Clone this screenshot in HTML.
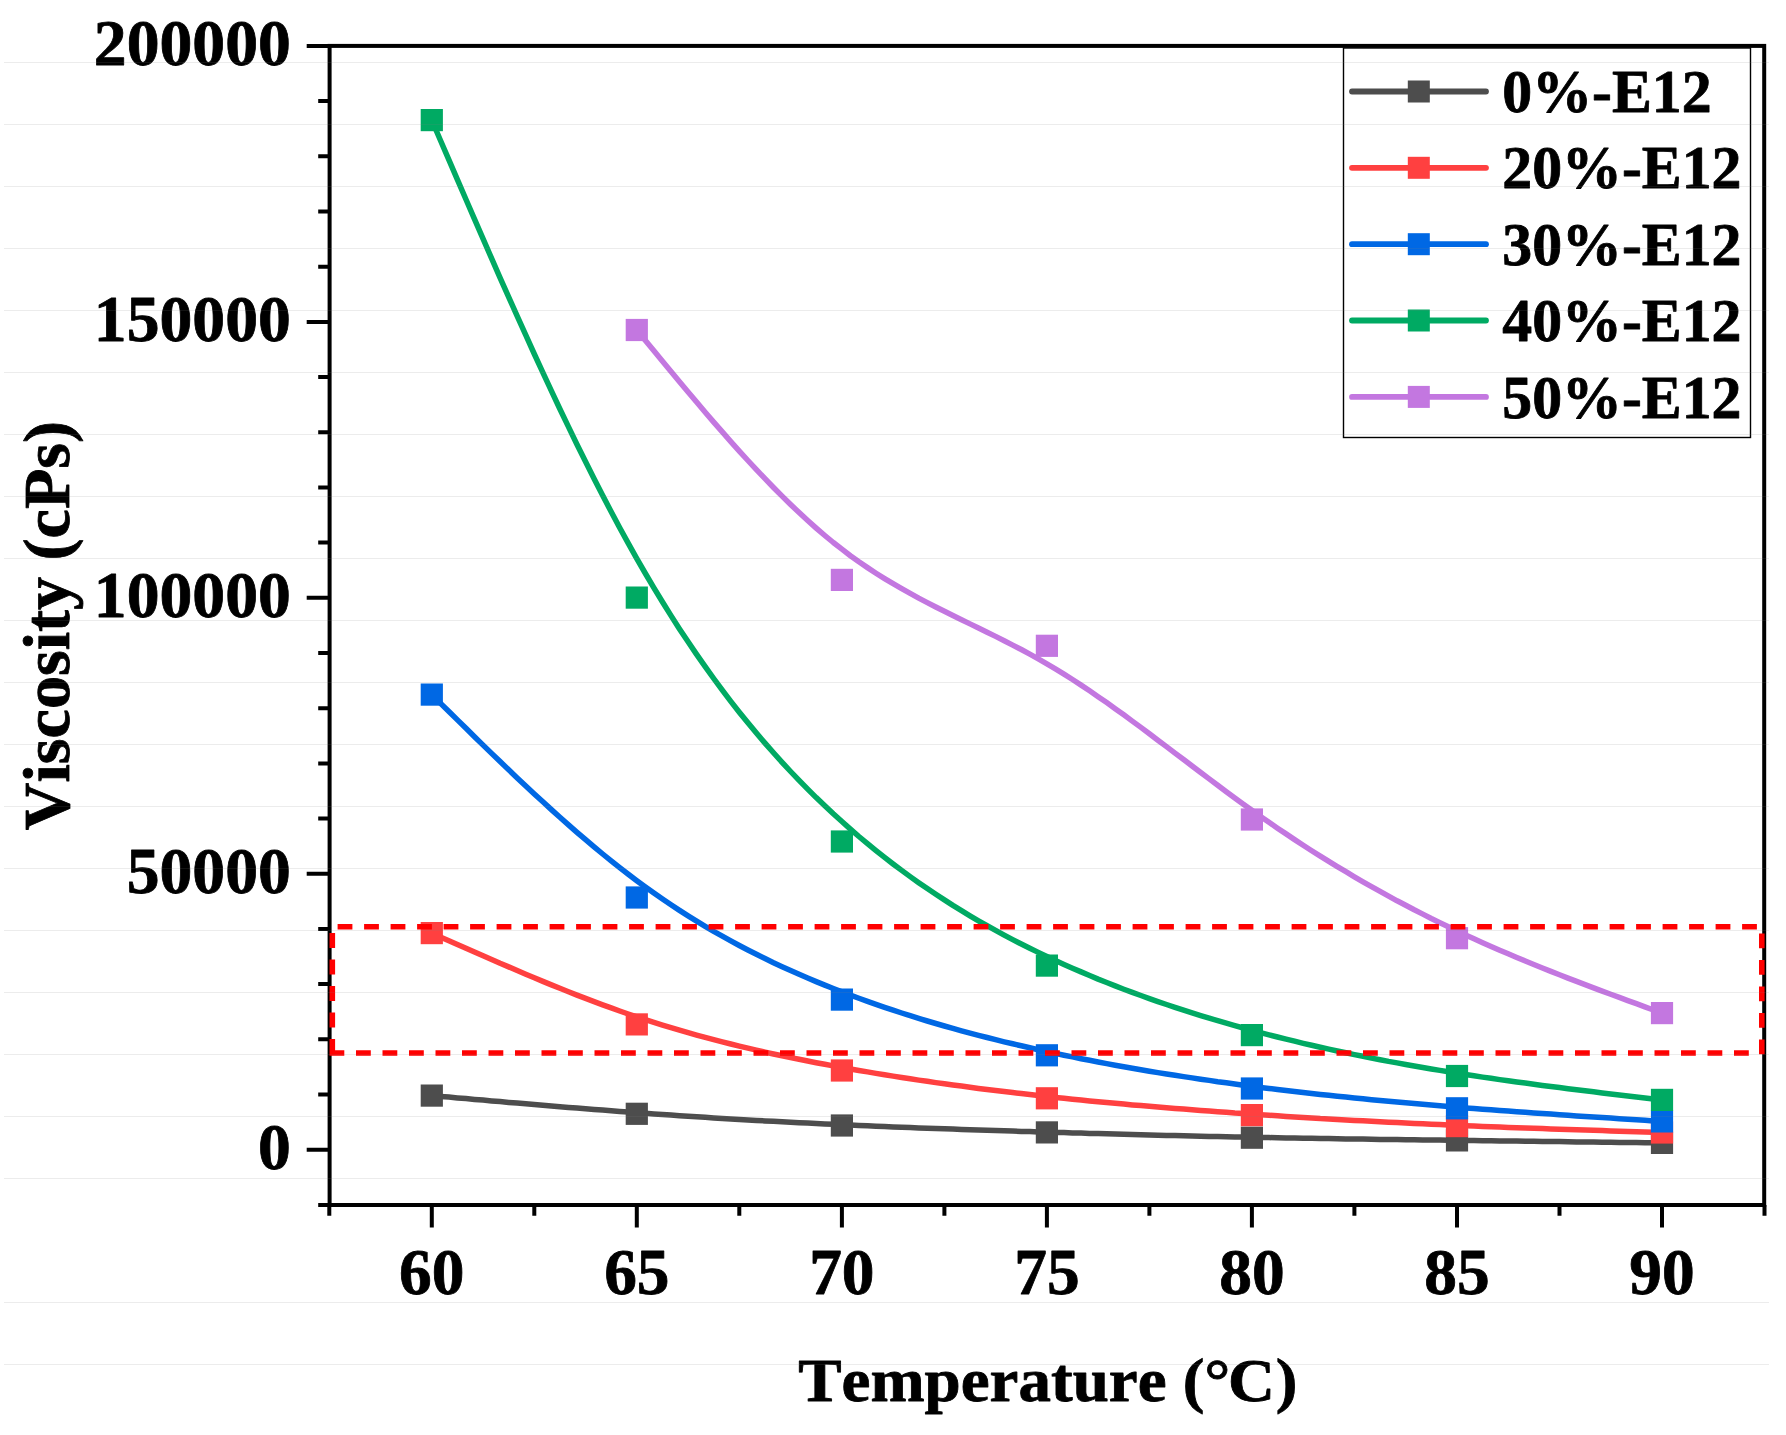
<!DOCTYPE html>
<html lang="en"><head><meta charset="utf-8"><title>Viscosity vs Temperature</title>
<style>html,body{margin:0;padding:0;background:#fff}body{width:1786px;height:1435px;overflow:hidden}svg{display:block}text{font-family:"Liberation Serif","Times New Roman",serif;font-weight:bold;fill:#000;font-kerning:none;stroke:#000;stroke-width:0.8px;stroke-linejoin:round}</style></head><body>
<svg width="1786" height="1435" viewBox="0 0 1786 1435">
<rect width="1786" height="1435" fill="#fff"/>
<path d="M431.8 1095.6 L440.3 1096.4 L448.9 1097.1 L457.4 1097.9 L466.0 1098.6 L474.5 1099.4 L483.1 1100.1 L491.6 1100.9 L500.1 1101.6 L508.7 1102.4 L517.2 1103.1 L525.8 1103.8 L534.3 1104.6 L542.9 1105.3 L551.4 1106.0 L559.9 1106.7 L568.5 1107.4 L577.0 1108.1 L585.6 1108.8 L594.1 1109.5 L602.7 1110.1 L611.2 1110.8 L619.7 1111.4 L628.3 1112.1 L636.8 1112.7 L645.4 1113.3 L653.9 1113.9 L662.5 1114.5 L671.0 1115.1 L679.5 1115.7 L688.1 1116.3 L696.6 1116.8 L705.2 1117.3 L713.7 1117.9 L722.3 1118.4 L730.8 1118.9 L739.3 1119.4 L747.9 1119.9 L756.4 1120.4 L765.0 1120.9 L773.5 1121.3 L782.1 1121.8 L790.6 1122.2 L799.1 1122.7 L807.7 1123.1 L816.2 1123.5 L824.8 1123.9 L833.3 1124.3 L841.9 1124.7 L850.4 1125.1 L858.9 1125.5 L867.5 1125.8 L876.0 1126.2 L884.6 1126.5 L893.1 1126.9 L901.7 1127.2 L910.2 1127.6 L918.7 1127.9 L927.3 1128.2 L935.8 1128.5 L944.4 1128.8 L952.9 1129.1 L961.5 1129.4 L970.0 1129.7 L978.5 1130.0 L987.1 1130.3 L995.6 1130.5 L1004.2 1130.8 L1012.7 1131.1 L1021.3 1131.4 L1029.8 1131.6 L1038.3 1131.9 L1046.9 1132.1 L1055.4 1132.4 L1064.0 1132.6 L1072.5 1132.9 L1081.1 1133.1 L1089.6 1133.4 L1098.1 1133.6 L1106.7 1133.8 L1115.2 1134.1 L1123.8 1134.3 L1132.3 1134.5 L1140.9 1134.7 L1149.4 1135.0 L1157.9 1135.2 L1166.5 1135.4 L1175.0 1135.6 L1183.6 1135.8 L1192.1 1136.0 L1200.7 1136.2 L1209.2 1136.4 L1217.7 1136.6 L1226.3 1136.7 L1234.8 1136.9 L1243.4 1137.1 L1251.9 1137.3 L1260.5 1137.4 L1269.0 1137.6 L1277.5 1137.7 L1286.1 1137.9 L1294.6 1138.0 L1303.2 1138.2 L1311.7 1138.3 L1320.3 1138.5 L1328.8 1138.6 L1337.3 1138.7 L1345.9 1138.9 L1354.4 1139.0 L1363.0 1139.1 L1371.5 1139.2 L1380.1 1139.4 L1388.6 1139.5 L1397.1 1139.6 L1405.7 1139.7 L1414.2 1139.8 L1422.8 1139.9 L1431.3 1140.0 L1439.9 1140.1 L1448.4 1140.3 L1457.0 1140.4 L1465.5 1140.5 L1474.0 1140.6 L1482.6 1140.7 L1491.1 1140.8 L1499.7 1140.9 L1508.2 1141.0 L1516.8 1141.1 L1525.3 1141.2 L1533.8 1141.3 L1542.4 1141.4 L1550.9 1141.5 L1559.5 1141.6 L1568.0 1141.8 L1576.6 1141.9 L1585.1 1142.0 L1593.6 1142.1 L1602.2 1142.2 L1610.7 1142.3 L1619.3 1142.4 L1627.8 1142.5 L1636.4 1142.6 L1644.9 1142.7 L1653.4 1142.8 L1662.0 1142.9" fill="none" stroke="#4d4d4d" stroke-width="5.5" stroke-linejoin="round"/>
<path d="M431.8 933.1 L440.3 936.9 L448.9 940.7 L457.4 944.5 L466.0 948.3 L474.5 952.1 L483.1 955.8 L491.6 959.5 L500.1 963.3 L508.7 966.9 L517.2 970.6 L525.8 974.2 L534.3 977.8 L542.9 981.4 L551.4 984.9 L559.9 988.3 L568.5 991.7 L577.0 995.1 L585.6 998.4 L594.1 1001.6 L602.7 1004.8 L611.2 1007.9 L619.7 1011.0 L628.3 1014.0 L636.8 1016.9 L645.4 1019.7 L653.9 1022.4 L662.5 1025.1 L671.0 1027.7 L679.5 1030.2 L688.1 1032.7 L696.6 1035.1 L705.2 1037.4 L713.7 1039.7 L722.3 1041.9 L730.8 1044.0 L739.3 1046.1 L747.9 1048.2 L756.4 1050.1 L765.0 1052.1 L773.5 1054.0 L782.1 1055.8 L790.6 1057.6 L799.1 1059.3 L807.7 1061.0 L816.2 1062.7 L824.8 1064.3 L833.3 1065.9 L841.9 1067.5 L850.4 1069.0 L858.9 1070.5 L867.5 1071.9 L876.0 1073.4 L884.6 1074.8 L893.1 1076.1 L901.7 1077.5 L910.2 1078.8 L918.7 1080.1 L927.3 1081.3 L935.8 1082.6 L944.4 1083.8 L952.9 1085.0 L961.5 1086.1 L970.0 1087.3 L978.5 1088.4 L987.1 1089.5 L995.6 1090.5 L1004.2 1091.6 L1012.7 1092.6 L1021.3 1093.6 L1029.8 1094.6 L1038.3 1095.5 L1046.9 1096.5 L1055.4 1097.4 L1064.0 1098.3 L1072.5 1099.2 L1081.1 1100.0 L1089.6 1100.9 L1098.1 1101.7 L1106.7 1102.5 L1115.2 1103.3 L1123.8 1104.1 L1132.3 1104.9 L1140.9 1105.6 L1149.4 1106.3 L1157.9 1107.1 L1166.5 1107.8 L1175.0 1108.5 L1183.6 1109.1 L1192.1 1109.8 L1200.7 1110.5 L1209.2 1111.1 L1217.7 1111.7 L1226.3 1112.3 L1234.8 1113.0 L1243.4 1113.5 L1251.9 1114.1 L1260.5 1114.7 L1269.0 1115.3 L1277.5 1115.8 L1286.1 1116.4 L1294.6 1116.9 L1303.2 1117.4 L1311.7 1117.9 L1320.3 1118.5 L1328.8 1118.9 L1337.3 1119.4 L1345.9 1119.9 L1354.4 1120.4 L1363.0 1120.8 L1371.5 1121.3 L1380.1 1121.7 L1388.6 1122.2 L1397.1 1122.6 L1405.7 1123.0 L1414.2 1123.4 L1422.8 1123.8 L1431.3 1124.2 L1439.9 1124.6 L1448.4 1125.0 L1457.0 1125.3 L1465.5 1125.7 L1474.0 1126.0 L1482.6 1126.4 L1491.1 1126.7 L1499.7 1127.1 L1508.2 1127.4 L1516.8 1127.7 L1525.3 1128.0 L1533.8 1128.3 L1542.4 1128.6 L1550.9 1128.9 L1559.5 1129.2 L1568.0 1129.5 L1576.6 1129.8 L1585.1 1130.1 L1593.6 1130.3 L1602.2 1130.6 L1610.7 1130.9 L1619.3 1131.2 L1627.8 1131.4 L1636.4 1131.7 L1644.9 1132.0 L1653.4 1132.2 L1662.0 1132.5" fill="none" stroke="#ff4040" stroke-width="5.5" stroke-linejoin="round"/>
<path d="M431.8 694.6 L440.3 703.1 L448.9 711.5 L457.4 719.9 L466.0 728.3 L474.5 736.7 L483.1 745.1 L491.6 753.4 L500.1 761.6 L508.7 769.8 L517.2 777.9 L525.8 786.0 L534.3 794.0 L542.9 801.8 L551.4 809.6 L559.9 817.3 L568.5 824.9 L577.0 832.4 L585.6 839.7 L594.1 846.9 L602.7 854.0 L611.2 860.9 L619.7 867.7 L628.3 874.3 L636.8 880.7 L645.4 887.0 L653.9 893.1 L662.5 899.0 L671.0 904.8 L679.5 910.4 L688.1 915.8 L696.6 921.1 L705.2 926.3 L713.7 931.3 L722.3 936.1 L730.8 940.9 L739.3 945.5 L747.9 950.0 L756.4 954.3 L765.0 958.5 L773.5 962.7 L782.1 966.7 L790.6 970.6 L799.1 974.3 L807.7 978.0 L816.2 981.6 L824.8 985.1 L833.3 988.5 L841.9 991.9 L850.4 995.1 L858.9 998.3 L867.5 1001.4 L876.0 1004.4 L884.6 1007.3 L893.1 1010.2 L901.7 1013.0 L910.2 1015.7 L918.7 1018.4 L927.3 1021.0 L935.8 1023.5 L944.4 1026.0 L952.9 1028.4 L961.5 1030.8 L970.0 1033.1 L978.5 1035.3 L987.1 1037.5 L995.6 1039.7 L1004.2 1041.8 L1012.7 1043.8 L1021.3 1045.8 L1029.8 1047.8 L1038.3 1049.7 L1046.9 1051.5 L1055.4 1053.4 L1064.0 1055.2 L1072.5 1056.9 L1081.1 1058.7 L1089.6 1060.3 L1098.1 1062.0 L1106.7 1063.6 L1115.2 1065.2 L1123.8 1066.7 L1132.3 1068.2 L1140.9 1069.7 L1149.4 1071.2 L1157.9 1072.6 L1166.5 1074.0 L1175.0 1075.3 L1183.6 1076.6 L1192.1 1077.9 L1200.7 1079.2 L1209.2 1080.4 L1217.7 1081.7 L1226.3 1082.8 L1234.8 1084.0 L1243.4 1085.2 L1251.9 1086.3 L1260.5 1087.4 L1269.0 1088.4 L1277.5 1089.5 L1286.1 1090.5 L1294.6 1091.5 L1303.2 1092.5 L1311.7 1093.5 L1320.3 1094.4 L1328.8 1095.3 L1337.3 1096.2 L1345.9 1097.1 L1354.4 1098.0 L1363.0 1098.8 L1371.5 1099.7 L1380.1 1100.5 L1388.6 1101.3 L1397.1 1102.1 L1405.7 1102.8 L1414.2 1103.6 L1422.8 1104.3 L1431.3 1105.1 L1439.9 1105.8 L1448.4 1106.5 L1457.0 1107.2 L1465.5 1107.9 L1474.0 1108.5 L1482.6 1109.2 L1491.1 1109.8 L1499.7 1110.5 L1508.2 1111.1 L1516.8 1111.7 L1525.3 1112.3 L1533.8 1112.9 L1542.4 1113.5 L1550.9 1114.1 L1559.5 1114.7 L1568.0 1115.3 L1576.6 1115.9 L1585.1 1116.4 L1593.6 1117.0 L1602.2 1117.6 L1610.7 1118.1 L1619.3 1118.7 L1627.8 1119.2 L1636.4 1119.8 L1644.9 1120.3 L1653.4 1120.9 L1662.0 1121.4" fill="none" stroke="#0068e4" stroke-width="5.5" stroke-linejoin="round"/>
<path d="M431.8 120.1 L440.3 140.0 L448.9 159.9 L457.4 179.7 L466.0 199.5 L474.5 219.2 L483.1 238.9 L491.6 258.4 L500.1 277.8 L508.7 297.1 L517.2 316.2 L525.8 335.2 L534.3 354.0 L542.9 372.6 L551.4 390.9 L559.9 409.0 L568.5 426.9 L577.0 444.5 L585.6 461.8 L594.1 478.8 L602.7 495.5 L611.2 511.8 L619.7 527.8 L628.3 543.4 L636.8 558.7 L645.4 573.5 L653.9 587.9 L662.5 602.0 L671.0 615.6 L679.5 628.9 L688.1 641.8 L696.6 654.4 L705.2 666.6 L713.7 678.5 L722.3 690.1 L730.8 701.3 L739.3 712.2 L747.9 722.8 L756.4 733.1 L765.0 743.1 L773.5 752.8 L782.1 762.3 L790.6 771.5 L799.1 780.4 L807.7 789.1 L816.2 797.6 L824.8 805.8 L833.3 813.8 L841.9 821.5 L850.4 829.1 L858.9 836.5 L867.5 843.6 L876.0 850.6 L884.6 857.4 L893.1 864.0 L901.7 870.4 L910.2 876.6 L918.7 882.7 L927.3 888.6 L935.8 894.3 L944.4 899.9 L952.9 905.4 L961.5 910.6 L970.0 915.8 L978.5 920.8 L987.1 925.7 L995.6 930.4 L1004.2 935.1 L1012.7 939.6 L1021.3 944.0 L1029.8 948.2 L1038.3 952.4 L1046.9 956.5 L1055.4 960.5 L1064.0 964.4 L1072.5 968.2 L1081.1 971.9 L1089.6 975.5 L1098.1 979.1 L1106.7 982.5 L1115.2 985.9 L1123.8 989.2 L1132.3 992.4 L1140.9 995.5 L1149.4 998.6 L1157.9 1001.6 L1166.5 1004.5 L1175.0 1007.4 L1183.6 1010.2 L1192.1 1012.9 L1200.7 1015.6 L1209.2 1018.2 L1217.7 1020.7 L1226.3 1023.2 L1234.8 1025.6 L1243.4 1028.0 L1251.9 1030.3 L1260.5 1032.6 L1269.0 1034.8 L1277.5 1037.0 L1286.1 1039.1 L1294.6 1041.2 L1303.2 1043.3 L1311.7 1045.3 L1320.3 1047.2 L1328.8 1049.1 L1337.3 1051.0 L1345.9 1052.8 L1354.4 1054.6 L1363.0 1056.3 L1371.5 1058.1 L1380.1 1059.7 L1388.6 1061.4 L1397.1 1062.9 L1405.7 1064.5 L1414.2 1066.0 L1422.8 1067.5 L1431.3 1069.0 L1439.9 1070.4 L1448.4 1071.8 L1457.0 1073.2 L1465.5 1074.5 L1474.0 1075.8 L1482.6 1077.1 L1491.1 1078.3 L1499.7 1079.6 L1508.2 1080.8 L1516.8 1082.0 L1525.3 1083.1 L1533.8 1084.3 L1542.4 1085.4 L1550.9 1086.5 L1559.5 1087.6 L1568.0 1088.7 L1576.6 1089.7 L1585.1 1090.8 L1593.6 1091.8 L1602.2 1092.9 L1610.7 1093.9 L1619.3 1094.9 L1627.8 1095.9 L1636.4 1096.9 L1644.9 1097.9 L1653.4 1098.9 L1662.0 1099.9" fill="none" stroke="#00aa63" stroke-width="5.5" stroke-linejoin="round"/>
<path d="M636.8 330.0 L645.4 340.4 L653.9 350.8 L662.5 361.2 L671.0 371.5 L679.5 381.8 L688.1 392.0 L696.6 402.1 L705.2 412.2 L713.7 422.1 L722.3 431.9 L730.8 441.6 L739.3 451.1 L747.9 460.5 L756.4 469.7 L765.0 478.7 L773.5 487.5 L782.1 496.1 L790.6 504.5 L799.1 512.6 L807.7 520.5 L816.2 528.1 L824.8 535.5 L833.3 542.5 L841.9 549.2 L850.4 555.7 L858.9 561.8 L867.5 567.6 L876.0 573.2 L884.6 578.6 L893.1 583.7 L901.7 588.7 L910.2 593.4 L918.7 598.1 L927.3 602.6 L935.8 607.0 L944.4 611.3 L952.9 615.5 L961.5 619.7 L970.0 623.9 L978.5 628.0 L987.1 632.2 L995.6 636.4 L1004.2 640.7 L1012.7 645.1 L1021.3 649.5 L1029.8 654.1 L1038.3 658.9 L1046.9 663.8 L1055.4 668.8 L1064.0 674.1 L1072.5 679.5 L1081.1 685.1 L1089.6 690.8 L1098.1 696.7 L1106.7 702.6 L1115.2 708.7 L1123.8 714.8 L1132.3 721.1 L1140.9 727.4 L1149.4 733.8 L1157.9 740.2 L1166.5 746.6 L1175.0 753.1 L1183.6 759.5 L1192.1 766.0 L1200.7 772.5 L1209.2 778.9 L1217.7 785.3 L1226.3 791.7 L1234.8 798.0 L1243.4 804.2 L1251.9 810.3 L1260.5 816.4 L1269.0 822.3 L1277.5 828.2 L1286.1 833.9 L1294.6 839.6 L1303.2 845.2 L1311.7 850.7 L1320.3 856.1 L1328.8 861.4 L1337.3 866.6 L1345.9 871.7 L1354.4 876.8 L1363.0 881.8 L1371.5 886.6 L1380.1 891.4 L1388.6 896.1 L1397.1 900.8 L1405.7 905.3 L1414.2 909.8 L1422.8 914.1 L1431.3 918.5 L1439.9 922.7 L1448.4 926.8 L1457.0 930.9 L1465.5 934.9 L1474.0 938.8 L1482.6 942.7 L1491.1 946.5 L1499.7 950.2 L1508.2 953.8 L1516.8 957.5 L1525.3 961.0 L1533.8 964.5 L1542.4 968.0 L1550.9 971.4 L1559.5 974.7 L1568.0 978.1 L1576.6 981.4 L1585.1 984.6 L1593.6 987.9 L1602.2 991.1 L1610.7 994.3 L1619.3 997.4 L1627.8 1000.6 L1636.4 1003.7 L1644.9 1006.9 L1653.4 1010.0 L1662.0 1013.1" fill="none" stroke="#c377e0" stroke-width="5.5" stroke-linejoin="round"/>
<rect x="420.7" y="1084.5" width="22.2" height="22.2" fill="#4d4d4d"/>
<rect x="625.7" y="1102.7" width="22.2" height="22.2" fill="#4d4d4d"/>
<rect x="830.8" y="1114.4" width="22.2" height="22.2" fill="#4d4d4d"/>
<rect x="1035.8" y="1121.3" width="22.2" height="22.2" fill="#4d4d4d"/>
<rect x="1240.8" y="1126.6" width="22.2" height="22.2" fill="#4d4d4d"/>
<rect x="1445.9" y="1129.3" width="22.2" height="22.2" fill="#4d4d4d"/>
<rect x="1650.9" y="1131.8" width="22.2" height="22.2" fill="#4d4d4d"/>
<rect x="420.7" y="922.0" width="22.2" height="22.2" fill="#ff4040"/>
<rect x="625.7" y="1013.3" width="22.2" height="22.2" fill="#ff4040"/>
<rect x="830.8" y="1059.4" width="22.2" height="22.2" fill="#ff4040"/>
<rect x="1035.8" y="1087.2" width="22.2" height="22.2" fill="#ff4040"/>
<rect x="1240.8" y="1104.0" width="22.2" height="22.2" fill="#ff4040"/>
<rect x="1445.9" y="1115.0" width="22.2" height="22.2" fill="#ff4040"/>
<rect x="1650.9" y="1121.4" width="22.2" height="22.2" fill="#ff4040"/>
<rect x="420.7" y="683.5" width="22.2" height="22.2" fill="#0068e4"/>
<rect x="625.7" y="886.4" width="22.2" height="22.2" fill="#0068e4"/>
<rect x="830.8" y="988.5" width="22.2" height="22.2" fill="#0068e4"/>
<rect x="1035.8" y="1044.2" width="22.2" height="22.2" fill="#0068e4"/>
<rect x="1240.8" y="1077.4" width="22.2" height="22.2" fill="#0068e4"/>
<rect x="1445.9" y="1097.2" width="22.2" height="22.2" fill="#0068e4"/>
<rect x="1650.9" y="1110.3" width="22.2" height="22.2" fill="#0068e4"/>
<rect x="420.7" y="109.0" width="22.2" height="22.2" fill="#00aa63"/>
<rect x="625.7" y="586.5" width="22.2" height="22.2" fill="#00aa63"/>
<rect x="830.8" y="830.4" width="22.2" height="22.2" fill="#00aa63"/>
<rect x="1035.8" y="954.5" width="22.2" height="22.2" fill="#00aa63"/>
<rect x="1240.8" y="1024.0" width="22.2" height="22.2" fill="#00aa63"/>
<rect x="1445.9" y="1064.9" width="22.2" height="22.2" fill="#00aa63"/>
<rect x="1650.9" y="1088.8" width="22.2" height="22.2" fill="#00aa63"/>
<rect x="625.7" y="318.9" width="22.2" height="22.2" fill="#c377e0"/>
<rect x="830.8" y="568.8" width="22.2" height="22.2" fill="#c377e0"/>
<rect x="1035.8" y="634.7" width="22.2" height="22.2" fill="#c377e0"/>
<rect x="1240.8" y="808.4" width="22.2" height="22.2" fill="#c377e0"/>
<rect x="1445.9" y="927.1" width="22.2" height="22.2" fill="#c377e0"/>
<rect x="1650.9" y="1002.0" width="22.2" height="22.2" fill="#c377e0"/>
<rect x="329.6" y="45.9" width="1434.6" height="1159.1" fill="none" stroke="#000" stroke-width="4.0"/>
<path d="M329.6 1149.7h-22.9M329.6 1094.5h-11.4M329.6 1039.3h-11.4M329.6 984.1h-11.4M329.6 928.9h-11.4M329.6 873.8h-22.9M329.6 818.6h-11.4M329.6 763.4h-11.4M329.6 708.2h-11.4M329.6 653.0h-11.4M329.6 597.8h-22.9M329.6 542.6h-11.4M329.6 487.4h-11.4M329.6 432.2h-11.4M329.6 377.0h-11.4M329.6 321.9h-22.9M329.6 266.7h-11.4M329.6 211.5h-11.4M329.6 156.3h-11.4M329.6 101.1h-11.4M329.6 45.9h-22.9M329.6 1205.0h-11.4M329.3 1205.0v10.8M431.8 1205.0v22.5M534.3 1205.0v10.8M636.8 1205.0v22.5M739.3 1205.0v10.8M841.9 1205.0v22.5M944.4 1205.0v10.8M1046.9 1205.0v22.5M1149.4 1205.0v10.8M1251.9 1205.0v22.5M1354.4 1205.0v10.8M1457.0 1205.0v22.5M1559.5 1205.0v10.8M1662.0 1205.0v22.5M1764.5 1205.0v10.8" stroke="#000" stroke-width="4.0" fill="none"/>
<text transform="translate(290.80,1169.00) scale(0.9950,1)" font-size="66.00" text-anchor="end">0</text>
<text transform="translate(290.80,893.05) scale(0.9950,1)" font-size="66.00" text-anchor="end">50000</text>
<text transform="translate(290.80,617.10) scale(0.9950,1)" font-size="66.00" text-anchor="end">100000</text>
<text transform="translate(290.80,341.15) scale(0.9950,1)" font-size="66.00" text-anchor="end">150000</text>
<text transform="translate(290.80,65.20) scale(0.9950,1)" font-size="66.00" text-anchor="end">200000</text>
<text transform="translate(431.80,1294.30)" font-size="65.40" text-anchor="middle">60</text>
<text transform="translate(636.83,1294.30)" font-size="65.40" text-anchor="middle">65</text>
<text transform="translate(841.86,1294.30)" font-size="65.40" text-anchor="middle">70</text>
<text transform="translate(1046.89,1294.30)" font-size="65.40" text-anchor="middle">75</text>
<text transform="translate(1251.92,1294.30)" font-size="65.40" text-anchor="middle">80</text>
<text transform="translate(1456.95,1294.30)" font-size="65.40" text-anchor="middle">85</text>
<text transform="translate(1661.98,1294.30)" font-size="65.40" text-anchor="middle">90</text>
<text transform="translate(798.20,1400.80) scale(1.0558,1)" font-size="61.60" text-anchor="start">Temperature (<tspan dx="-0.2">°</tspan><tspan dx="-2.2">C</tspan><tspan dx="0.8">)</tspan></text>
<text transform="translate(68.50,625.60) rotate(-90) scale(0.9970,1)" font-size="66.30" text-anchor="middle">Viscosity (cPs)</text>
<path d="M332.3 1053H1761.8V926.7H332.3V1053" fill="none" stroke="#ff0000" stroke-width="5.6" stroke-dasharray="9.2 17.3" stroke-linecap="square"/>
<rect x="1343.5" y="48" width="407" height="389.5" fill="none" stroke="#000" stroke-width="1.4"/>
<path d="M1352 91.5H1486" stroke="#4d4d4d" stroke-width="5.8" stroke-linecap="round"/>
<rect x="1407.8" y="80.5" width="22" height="22" fill="#4d4d4d"/>
<text transform="translate(1502.30,112.10) scale(0.9770,1)" font-size="61.20" text-anchor="start">0%-E12</text>
<path d="M1352 167.8H1486" stroke="#ff4040" stroke-width="5.8" stroke-linecap="round"/>
<rect x="1407.8" y="156.8" width="22" height="22" fill="#ff4040"/>
<text transform="translate(1502.30,188.45) scale(0.9770,1)" font-size="61.20" text-anchor="start">20%-E12</text>
<path d="M1352 244.2H1486" stroke="#0068e4" stroke-width="5.8" stroke-linecap="round"/>
<rect x="1407.8" y="233.2" width="22" height="22" fill="#0068e4"/>
<text transform="translate(1502.30,264.80) scale(0.9770,1)" font-size="61.20" text-anchor="start">30%-E12</text>
<path d="M1352 320.5H1486" stroke="#00aa63" stroke-width="5.8" stroke-linecap="round"/>
<rect x="1407.8" y="309.5" width="22" height="22" fill="#00aa63"/>
<text transform="translate(1502.30,341.15) scale(0.9770,1)" font-size="61.20" text-anchor="start">40%-E12</text>
<path d="M1352 396.9H1486" stroke="#c377e0" stroke-width="5.8" stroke-linecap="round"/>
<rect x="1407.8" y="385.9" width="22" height="22" fill="#c377e0"/>
<text transform="translate(1502.30,417.50) scale(0.9770,1)" font-size="61.20" text-anchor="start">50%-E12</text>
<path d="M4 62.5H1769M4 124.5H1769M4 186.5H1769M4 248.5H1769M4 310.5H1769M4 372.5H1769M4 434.5H1769M4 496.5H1769M4 558.5H1769M4 620.5H1769M4 682.5H1769M4 744.5H1769M4 806.5H1769M4 868.5H1769M4 930.5H1769M4 992.5H1769M4 1054.5H1769M4 1116.5H1769M4 1178.5H1769M4 1302.5H1769M4 1364.5H1769" stroke="#808080" stroke-opacity="0.15" stroke-width="1" shape-rendering="crispEdges" fill="none"/>
</svg></body></html>
